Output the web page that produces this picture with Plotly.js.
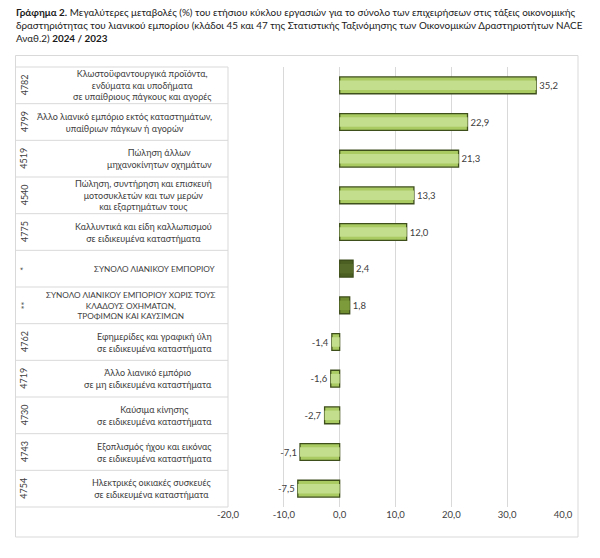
<!DOCTYPE html>
<html><head><meta charset="utf-8">
<script src="https://cdn.plot.ly/plotly-3.0.1.min.js"></script>
<style>html,body{margin:0;padding:0;background:#fff}#chart{width:600px;height:558px}</style>
</head><body><div id="chart"></div>
<script>
const codes = ["4782","4799","4519","4540","4775","*","**","4762","4719","4730","4743","4754"];
const labels = [
 "Κλωστοϋφαντουργικά προϊόντα,<br>ενδύματα και υποδήματα<br>σε υπαίθριους πάγκους και αγορές",
 "Άλλο λιανικό εμπόριο εκτός καταστημάτων,<br>υπαίθριων πάγκων ή αγορών",
 "Πώληση άλλων<br>μηχανοκίνητων οχημάτων",
 "Πώληση, συντήρηση και επισκευή<br>μοτοσυκλετών και των μερών<br>και εξαρτημάτων τους",
 "Καλλυντικά και είδη καλλωπισμού<br>σε ειδικευμένα καταστήματα",
 "ΣΥΝΟΛΟ ΛΙΑΝΙΚΟΥ ΕΜΠΟΡΙΟΥ",
 "ΣΥΝΟΛΟ ΛΙΑΝΙΚΟΥ ΕΜΠΟΡΙΟΥ ΧΩΡΙΣ ΤΟΥΣ<br>ΚΛΑΔΟΥΣ ΟΧΗΜΑΤΩΝ,<br>ΤΡΟΦΙΜΩΝ ΚΑΙ ΚΑΥΣΙΜΩΝ",
 "Εφημερίδες και γραφική ύλη<br>σε ειδικευμένα καταστήματα",
 "Άλλο λιανικό εμπόριο<br>σε μη ειδικευμένα καταστήματα",
 "Καύσιμα κίνησης<br>σε ειδικευμένα καταστήματα",
 "Εξοπλισμός ήχου και εικόνας<br>σε ειδικευμένα καταστήματα",
 "Ηλεκτρικές οικιακές συσκευές<br>σε ειδικευμένα καταστήματα"
];
const values = [35.2, 22.9, 21.3, 13.3, 12.0, 2.4, 1.8, -1.4, -1.6, -2.7, -7.1, -7.5];
const tickVals = [-20, -10, 0, 10, 20, 30, 40];
const tickText = ["-20,0","-10,0","0,0","10,0","20,0","30,0","40,0"];
const titleText = "<b>Γράφημα 2.</b> Μεγαλύτερες μεταβολές (%) του ετήσιου κύκλου εργασιών για το σύνολο των επιχειρήσεων στις τάξεις οικονομικής<br>δραστηριότητας του λιανικού εμπορίου (κλάδοι 45 και 47 της Στατιστικής Ταξινόμησης των Οικονομικών Δραστηριοτήτων NACE<br>Αναθ.2) <b>2024 / 2023</b>";

const idx = values.map((v,i)=>i);
const fmt = v => (v<0?"-":"") + Math.abs(v).toFixed(1).replace('.', ',');
const fillCols = codes.map(c => c==="*" ? "#4b5f22" : (c==="**" ? "#6f8c31" : "#a9cb62"));
const faceCols = codes.map(c => c==="*" ? "#566b2a" : (c==="**" ? "#7d9b3a" : "#c3de8c"));

const FAM = "Lato, 'Open Sans', sans-serif";
const txtFont = {family:FAM, size:9, color:"#404040"};
const capFont = {family:FAM, size:8.2, color:"#404040"};

const traces = [
 {type:"bar", orientation:"h", x:values, y:idx, width:0.46,
  marker:{color:fillCols, line:{color:"#3f4f1c", width:1.3}},
  text:values.map(fmt), textposition:"outside", cliponaxis:false,
  textfont:{family:FAM, size:9.5, color:"#404040"}, hoverinfo:"skip"},
 {type:"bar", orientation:"h", x:values, y:idx, width:0.26,
  marker:{color:faceCols, line:{width:0}}, hoverinfo:"skip", textposition:"none"}
];

const plotL=228, plotR=563, plotT=67, plotB=507;
const W=600, H=558;
const px = p => (p-plotL)/(plotR-plotL);
const py = p => (plotB-p)/(plotB-plotT);

const shapes = [];
shapes.push({type:"rect", xref:"paper", yref:"paper", x0:px(15.5), x1:px(578), y0:py(537), y1:py(55.5),
  line:{color:"#d9d9d9", width:1}, fillcolor:"rgba(0,0,0,0)", layer:"below"});
shapes.push({type:"rect", xref:"paper", yref:"paper", x0:px(15.5), x1:px(228), y0:0, y1:1,
  line:{color:"#d9d9d9", width:1}, fillcolor:"rgba(0,0,0,0)"});
for (let i=1;i<values.length;i++){
  shapes.push({type:"line", xref:"paper", yref:"y", x0:px(15.5), x1:px(228), y0:i-0.5, y1:i-0.5,
    line:{color:"#d9d9d9", width:1}});
}

const annotations = [];
codes.forEach((c,i)=>{
  annotations.push({xref:"paper", yref:"y", x:px(24), y:i, text:c, showarrow:false,
    textangle:-90, font:txtFont, xanchor:"center", yanchor:"middle"});
  const isCap = (c==="*"||c==="**");
  annotations.push({xref:"paper", yref:"y", x:px(isCap?218:214), y:i, text:labels[i], showarrow:false,
    align:"center", xanchor:"right", yanchor:"middle", font:isCap?capFont:txtFont});
});
annotations.push({xref:"paper", yref:"paper", x:px(14), y:py(4), xanchor:"left", yanchor:"top",
  align:"left", showarrow:false, text:titleText,
  font:{family:FAM, size:9.9, color:"#1a1a1a"}});

const layout = {
  width:W, height:H,
  margin:{l:plotL, r:W-plotR, t:plotT, b:H-plotB, pad:0},
  paper_bgcolor:"#fff", plot_bgcolor:"#fff",
  showlegend:false, barmode:"overlay",
  xaxis:{range:[-20,40], tickvals:tickVals, ticktext:tickText, showgrid:true, gridcolor:"#d9d9d9", gridwidth:1,
    zeroline:false, showline:false, ticks:"", tickfont:{family:FAM, size:9.5, color:"#404040"}, fixedrange:true},
  yaxis:{range:[values.length-0.5,-0.5], showticklabels:false, showgrid:false, zeroline:false, ticks:"", fixedrange:true},
  shapes:shapes, annotations:annotations
};
Plotly.newPlot("chart", traces, layout, {staticPlot:true, displayModeBar:false});
</script></body></html>
